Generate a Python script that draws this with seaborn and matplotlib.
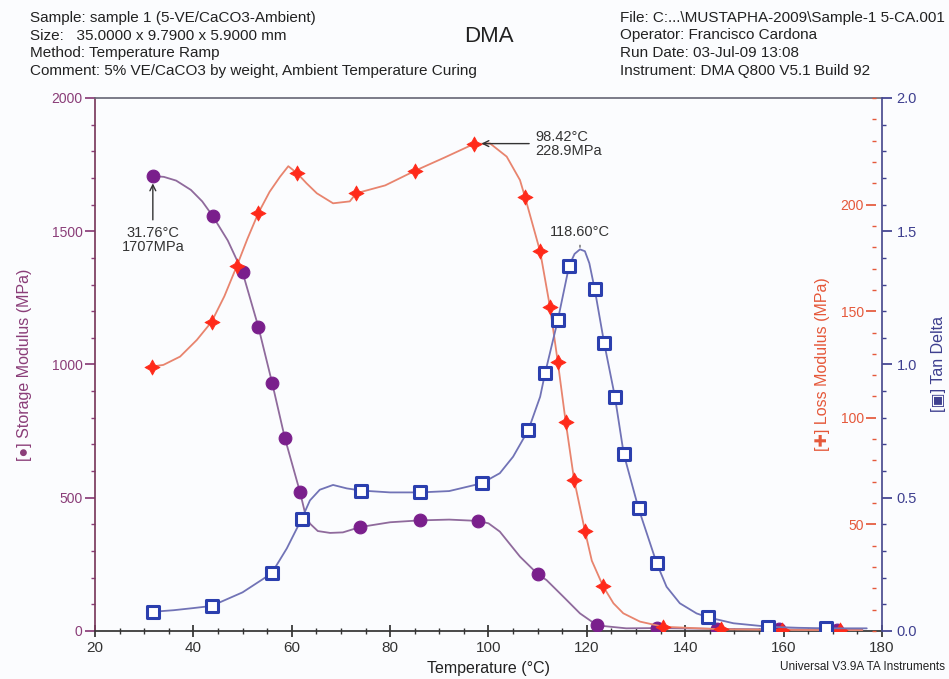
import numpy as np
import pandas as pd
import seaborn as sns
import matplotlib.pyplot as plt
from matplotlib.ticker import MultipleLocator

# marker points
stor_T = [31.8, 43.9, 50.0, 53.2, 56.0, 58.6, 61.7, 73.9, 86.0, 97.9, 110.1, 122.1, 134.2, 146.4, 159.0, 170.8]
stor_E = [1707, 1558, 1346, 1142, 932, 724, 520, 390, 415, 413, 212, 21, 11, 8, 6, 5]

loss_T = [31.5, 43.7, 48.8, 53.2, 61.1, 73.1, 85.1, 97.0, 107.4, 110.5, 112.5, 114.1, 115.7, 117.4, 119.6, 123.3, 135.5, 147.2, 159.6, 171.5]
loss_E = [124, 145, 171, 196, 214.7, 205.3, 215.9, 228.4, 203.7, 178, 152, 126, 98, 71, 47, 21, 2.0, 0.8, 0.5, 0.4]

tan_T = [31.7, 43.7, 55.9, 62.0, 74.1, 86.1, 98.6, 108.1, 111.5, 114.1, 116.4, 121.6, 123.5, 125.7, 127.5, 130.5, 134.2, 144.7, 156.9, 168.7]
tan_d = [0.072, 0.094, 0.216, 0.420, 0.527, 0.520, 0.554, 0.754, 0.967, 1.167, 1.371, 1.282, 1.082, 0.879, 0.664, 0.460, 0.254, 0.051, 0.016, 0.010]

# extra points on the traced curves (between markers)
stor_curve_T = [34.0, 36.5, 39.5, 41.8, 47.0, 62.7, 63.7, 65.3, 67.8, 70.4, 80.0, 92.0, 100.0,
                102.3, 106.4, 111.8, 115.2, 118.6, 128.0, 176.0]
stor_curve_E = [1704, 1690, 1655, 1612, 1465, 443, 403, 375, 368, 370, 408, 418, 404,
                373, 279, 191, 129, 66, 10, 5]

loss_curve_T = [33.9, 37.3, 40.7, 46.3, 51.0, 55.5, 57.6, 59.3, 63.0, 65.1, 68.4, 71.8, 79.0, 91.0,
                100.3, 103.7, 106.4, 121.0, 125.4, 127.4, 130.8, 176.0]
loss_curve_E = [124.8, 128.7, 136.5, 157, 184, 206, 213, 218, 210, 205.3, 200.6, 201.5, 209, 222,
                228.7, 222.5, 211.5, 33, 13, 8.3, 4.4, 0.4]

tan_curve_T = [36.0, 40.0, 50.0, 59.0, 63.7, 65.7, 68.4, 71.2, 80.0, 92.0, 102.3, 105.0, 110.5,
               117.5, 118.6, 119.6, 120.5, 136.2, 138.9, 142.3, 149.8, 163.0, 176.9]
tan_curve_d = [0.078, 0.086, 0.145, 0.31, 0.49, 0.53, 0.548, 0.535, 0.52, 0.525, 0.592, 0.654, 0.879,
               1.415, 1.432, 1.425, 1.38, 0.166, 0.104, 0.066, 0.029, 0.012, 0.010]


def curve(mt, mv, ct, cv):
    d = pd.DataFrame({'T': list(mt) + list(ct), 'v': list(mv) + list(cv)})
    return d.sort_values('T').reset_index(drop=True)


sns.set_theme(style='ticks')
plt.rcParams['font.family'] = ['Liberation Sans', 'DejaVu Sans']

c_stor, c_stor_l = '#7a1f8c', '#8f6a9c'
c_loss, c_loss_l = '#ff2a1a', '#e8846e'
c_tan, c_tan_l = '#2b3fae', '#7173b6'

fig = plt.figure(figsize=(9.49, 6.79), dpi=100, facecolor='#fbfcfe')
ax = fig.add_axes([0.1001, 0.0707, 0.8293, 0.785])
ax.set_facecolor('#fbfcfe')
ax2 = ax.twinx()
ax3 = ax.twinx()

# storage modulus
sns.lineplot(data=curve(stor_T, stor_E, stor_curve_T, stor_curve_E), x='T', y='v', ax=ax,
             color=c_stor_l, lw=1.3, sort=False, estimator=None)
sns.scatterplot(x=stor_T, y=stor_E, ax=ax, color=c_stor, s=85, edgecolor=c_stor, zorder=5)

# loss modulus
sns.lineplot(data=curve(loss_T, loss_E, loss_curve_T, loss_curve_E), x='T', y='v', ax=ax2,
             color=c_loss_l, lw=1.3, sort=False, estimator=None)
ax2.scatter(loss_T, loss_E, marker=(4, 1, 0), s=120, color=c_loss, zorder=5, lw=0.5)

# tan delta
sns.lineplot(data=curve(tan_T, tan_d, tan_curve_T, tan_curve_d), x='T', y='v', ax=ax3,
             color=c_tan_l, lw=1.3, sort=False, estimator=None)
ax3.scatter(tan_T, tan_d, marker='s', s=80, facecolor='white', edgecolor=c_tan, lw=2.2, zorder=5)

ax.set_xlim(20, 180)
ax.set_ylim(0, 2000)
ax2.set_ylim(0, 250)
ax3.set_ylim(0, 2.0)

for a in (ax, ax2, ax3):
    a.set_xlabel('')
    a.set_ylabel('')

ax.xaxis.set_major_locator(MultipleLocator(20))
ax.xaxis.set_minor_locator(MultipleLocator(5))
ax.yaxis.set_major_locator(MultipleLocator(500))
ax.yaxis.set_minor_locator(MultipleLocator(100))
ax.tick_params(axis='x', which='major', direction='inout', length=8, colors='#333333', labelsize=11)
ax.tick_params(axis='x', which='minor', direction='inout', length=5, colors='#333333')
ax.tick_params(axis='y', which='major', length=7, pad=2, colors='#8a3d78', labelsize=10)
ax.tick_params(axis='y', which='minor', length=3, colors='#8a3d78')
ax.spines['left'].set_color('#7a3b5e')
ax.spines['bottom'].set_color('#333333')
ax.spines['top'].set_color('#6b6b7a')
ax.spines['right'].set_visible(False)

# loss modulus scale sits just inside the right edge
ax2.yaxis.tick_left()
ax2.yaxis.set_label_position('left')
ax2.spines['left'].set_position(('axes', 0.993))
for s in ax2.spines.values():
    s.set_visible(False)
ax2.yaxis.set_major_locator(MultipleLocator(50))
ax2.yaxis.set_minor_locator(MultipleLocator(10))
ax2.set_yticks([50, 100, 150, 200])
ax2.tick_params(axis='y', which='major', length=7, pad=2, colors='#e5583a', labelsize=10)
ax2.tick_params(axis='y', which='minor', length=3, colors='#e5583a')

ax3.yaxis.set_major_locator(MultipleLocator(0.5))
ax3.yaxis.set_minor_locator(MultipleLocator(0.1))
ax3.yaxis.set_major_formatter('{x:.1f}')
ax3.tick_params(axis='y', which='major', length=7, colors='#3e3f8f', labelsize=10.5)
ax3.tick_params(axis='y', which='minor', length=3, colors='#3e3f8f')
for k in ('left', 'top', 'bottom'):
    ax3.spines[k].set_visible(False)
ax3.spines['right'].set_color('#4b4c90')

ax.set_xlabel('Temperature (°C)', fontsize=11.5, color='#222222', labelpad=4)
ax.set_ylabel('[●] Storage Modulus (MPa)', fontsize=11.5, color='#8a3d78', labelpad=14)
ax2.set_ylabel('[✚] Loss Modulus (MPa)', fontsize=11.5, color='#e5583a', labelpad=8)
ax3.set_ylabel('[▣] Tan Delta', fontsize=11.5, color='#3e3f8f', labelpad=10)

# annotations
ax.annotate('31.76°C\n1707MPa', xy=(31.76, 1690), xytext=(31.76, 1520), ha='center', va='top',
            fontsize=10.5, color='#333333', linespacing=1.0,
            arrowprops=dict(arrowstyle='->', color='#333333', lw=1))
ax2.annotate('98.42°C\n228.9MPa', xy=(98.0, 228.6), xytext=(109.5, 228.6), ha='left', va='center',
             fontsize=10.5, color='#333333', linespacing=1.0,
             arrowprops=dict(arrowstyle='->', color='#333333', lw=1))
ax3.annotate('118.60°C', xy=(118.6, 1.44), xytext=(118.6, 1.47), ha='center', va='bottom',
             fontsize=10.5, color='#333333',
             arrowprops=dict(arrowstyle='-', color='#666666', lw=1))

# header block
hdr = dict(fontsize=11, color='#222222', family=['Liberation Sans', 'DejaVu Sans'])
left_lines = ['Sample: sample 1 (5-VE/CaCO3-Ambient)',
              'Size:   35.0000 x 9.7900 x 5.9000 mm',
              'Method: Temperature Ramp',
              'Comment: 5% VE/CaCO3 by weight, Ambient Temperature Curing']
right_lines = ['File: C:...\\MUSTAPHA-2009\\Sample-1 5-CA.001',
               'Operator: Francisco Cardona',
               'Run Date: 03-Jul-09 13:08',
               'Instrument: DMA Q800 V5.1 Build 92']
for i, t in enumerate(left_lines):
    fig.text(30 / 949, 1 - (18 + 17.5 * i) / 679, t, va='center', ha='left', **hdr)
for i, t in enumerate(right_lines):
    fig.text(620 / 949, 1 - (18 + 17.5 * i) / 679, t, va='center', ha='left', **hdr)
fig.text(489 / 949, 1 - 36 / 679, 'DMA', fontsize=16, ha='center', va='center', color='#222222')
fig.text(945 / 949, 1 - 667 / 679, 'Universal V3.9A TA Instruments', fontsize=8.5,
         ha='right', va='center', color='#222222')

fig.savefig('out.png', dpi=100, facecolor=fig.get_facecolor())
